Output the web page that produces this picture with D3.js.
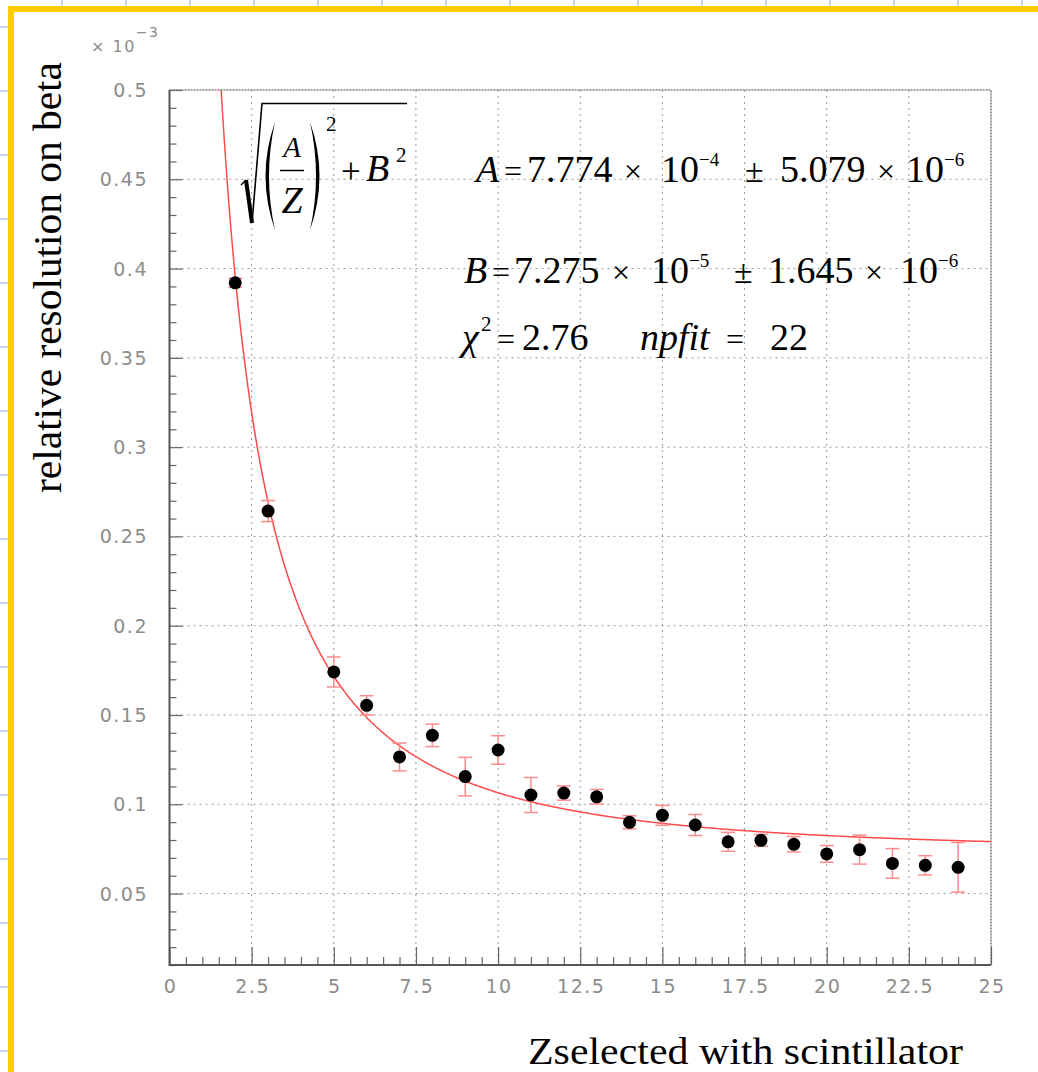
<!DOCTYPE html>
<html>
<head>
<meta charset="utf-8">
<script src="https://cdn.jsdelivr.net/npm/d3@7"></script>
<style>
  body { margin: 0; background: #fff; }
  svg { display: block; }
  .tick-label { font-family: "DejaVu Sans", sans-serif; fill: #8c8c8c; letter-spacing: 1.5px; }
  .serif { font-family: "Liberation Serif", "Times New Roman", serif; fill: #000; }
</style>
</head>
<body>
<svg width="1038" height="1072"></svg>
<script>
// Data (values in units of 10^-3)
const zValues = [2, 3, 5, 6, 7, 8, 9, 10, 11, 12, 13, 14, 15, 16, 17, 18, 19, 20, 21, 22, 23, 24];
const resValues = [0.3920, 0.2642, 0.1741, 0.1554, 0.1265, 0.1386, 0.1155, 0.1304, 0.1052, 0.1063, 0.1042,
                   0.0899, 0.0938, 0.0884, 0.0790, 0.0798, 0.0776, 0.0722, 0.0746, 0.0669, 0.0658, 0.0647];
const resErrors = [0.0025, 0.0059, 0.0084, 0.0054, 0.0078, 0.0063, 0.0108, 0.0080, 0.0098, 0.0040, 0.0041,
                   0.0037, 0.0056, 0.0059, 0.0053, 0.0033, 0.0043, 0.0047, 0.0081, 0.0083, 0.0054, 0.0139];

// Fit parameters (10^-3 units), curve sqrt((A/Z)^2 + B^2)
const fitA = 0.7774;
const fitB = 0.07275;

// Axis ticks
const xTickValues = [0, 2.5, 5, 7.5, 10, 12.5, 15, 17.5, 20, 22.5, 25];
const xTickLabels = ["0", "2.5", "5", "7.5", "10", "12.5", "15", "17.5", "20", "22.5", "25"];
const yTickValues = [0.05, 0.1, 0.15, 0.2, 0.25, 0.3, 0.35, 0.4, 0.45, 0.5];
const yTickLabels = ["0.05", "0.1", "0.15", "0.2", "0.25", "0.3", "0.35", "0.4", "0.45", "0.5"];

const svg = d3.select("svg");

// Spreadsheet background strips and yellow frame
const bg = svg.append("g");
for (let x = 62; x < 1038; x += 64) {
    bg.append("line").attr("x1", x).attr("x2", x).attr("y1", 0).attr("y2", 6)
        .attr("stroke", "#c9d5f5").attr("stroke-width", 2);
}
for (let y = 27; y < 1072; y += 64) {
    bg.append("line").attr("x1", 0).attr("x2", 8).attr("y1", y).attr("y2", y)
        .attr("stroke", "#c9d5f5").attr("stroke-width", 2);
}
bg.append("rect").attr("x", 8).attr("y", 6).attr("width", 1030).attr("height", 6).attr("fill", "#ffcc00");
bg.append("rect").attr("x", 8).attr("y", 6).attr("width", 6).attr("height", 1066).attr("fill", "#ffcc00");

// Scales
const x = d3.scaleLinear().domain([0, 25]).range([169.5, 991]);
const y = d3.scaleLinear().domain([0.01, 0.5]).range([965, 90]);

const plot = svg.append("g");

// Grid (dotted)
plot.selectAll(".vgrid").data(xTickValues.slice(1, -1)).enter().append("line")
    .attr("x1", d => x(d)).attr("x2", d => x(d)).attr("y1", y(0.5)).attr("y2", y(0.01))
    .attr("stroke", "#9a9a9a").attr("stroke-width", 1).attr("stroke-dasharray", "2,4");
plot.selectAll(".hgrid").data(yTickValues.slice(0, -1)).enter().append("line")
    .attr("x1", x(0)).attr("x2", x(25)).attr("y1", d => y(d)).attr("y2", d => y(d))
    .attr("stroke", "#9a9a9a").attr("stroke-width", 1).attr("stroke-dasharray", "2,4");

// Frame top and right
plot.append("path")
    .attr("d", `M${x(0)},${y(0.5)} H${x(25)} V${y(0.01)}`)
    .attr("fill", "none").attr("stroke", "#808080").attr("stroke-width", 1.6)
    .attr("stroke-dasharray", "2,1");

// Y axis with inward ticks
const yAxis = d3.axisRight(y).tickValues(d3.range(0.01, 0.5001, 0.01).map(v => +v.toFixed(2)))
    .tickSize(7).tickFormat("");
const yAxisG = plot.append("g").attr("transform", `translate(${x(0)},0)`).call(yAxis);
yAxisG.select(".domain").remove();
yAxisG.selectAll(".tick line").attr("stroke", "#666").attr("stroke-width", 1.2)
    .attr("x2", d => (Math.round(d * 100) % 5 === 0) ? 13 : 7);

// X axis with inward ticks
const xAxis = d3.axisTop(x).tickValues(d3.range(0, 25.001, 0.5)).tickSize(8).tickFormat("");
const xAxisG = plot.append("g").attr("transform", `translate(0,${y(0.01)})`).call(xAxis);
xAxisG.select(".domain").remove();
xAxisG.selectAll(".tick line").attr("stroke", "#666").attr("stroke-width", 1.2)
    .attr("y2", d => (Math.round(d * 2) % 5 === 0) ? -18 : -8);

// Axis lines
plot.append("path")
    .attr("d", `M${x(0)},${y(0.5)} V${y(0.01)} H${x(25)}`)
    .attr("fill", "none").attr("stroke", "#555").attr("stroke-width", 2);

// Tick labels
plot.selectAll(".ylab").data(yTickValues).enter().append("text")
    .attr("class", "tick-label")
    .attr("x", 148).attr("y", d => y(d) + 7)
    .attr("text-anchor", "end").attr("font-size", 19)
    .text((d, i) => yTickLabels[i]);
plot.selectAll(".xlab").data(xTickValues).enter().append("text")
    .attr("class", "tick-label")
    .attr("x", d => x(d) + 1).attr("y", 993)
    .attr("text-anchor", "middle").attr("font-size", 19)
    .text((d, i) => xTickLabels[i]);

// x 10^-3 multiplier
const mult = plot.append("text").attr("class", "tick-label").attr("x", 91).attr("y", 52).attr("font-size", 16);
mult.append("tspan").text("× 10");
mult.append("tspan").attr("dy", -15).attr("font-size", 14).text("−3");

// Fit curve
svg.append("clipPath").attr("id", "clip").append("rect")
    .attr("x", x(0)).attr("y", y(0.5)).attr("width", x(25) - x(0)).attr("height", y(0.01) - y(0.5));
const fitZ = d3.range(1.5, 25.001, 0.05);
const line = d3.line().x(z => x(z)).y(z => y(Math.sqrt((fitA / z) ** 2 + fitB ** 2)));
plot.append("path").datum(fitZ)
    .attr("clip-path", "url(#clip)")
    .attr("d", line).attr("fill", "none").attr("stroke", "#ff4a4a").attr("stroke-width", 1.5);

// Error bars
const pts = zValues.map((z, i) => ({ z: z, v: resValues[i], e: resErrors[i] }));
const err = plot.append("g").attr("stroke", "#ff8c8c").attr("stroke-width", 1.5);
err.selectAll(".ev").data(pts).enter().append("line")
    .attr("x1", d => x(d.z)).attr("x2", d => x(d.z))
    .attr("y1", d => y(d.v - d.e)).attr("y2", d => y(d.v + d.e));
err.selectAll(".et").data(pts).enter().append("line")
    .attr("x1", d => x(d.z) - 7).attr("x2", d => x(d.z) + 7)
    .attr("y1", d => y(d.v + d.e)).attr("y2", d => y(d.v + d.e));
err.selectAll(".eb").data(pts).enter().append("line")
    .attr("x1", d => x(d.z) - 7).attr("x2", d => x(d.z) + 7)
    .attr("y1", d => y(d.v - d.e)).attr("y2", d => y(d.v - d.e));

// Markers
plot.selectAll(".dot").data(pts).enter().append("circle")
    .attr("cx", d => x(d.z)).attr("cy", d => y(d.v)).attr("r", 6.5).attr("fill", "#000");

// Formula sqrt((A/Z)^2 + B^2)
const f = svg.append("g");
f.append("path").attr("d", "M241,185 L246,180").attr("stroke", "#000").attr("stroke-width", 1.5);
f.append("path").attr("d", "M246,180 L252,223").attr("stroke", "#000").attr("stroke-width", 4);
f.append("path").attr("d", "M252,223 L262,103.5 H407").attr("fill", "none").attr("stroke", "#000").attr("stroke-width", 1.6);
f.append("path").attr("d", "M275,122 Q256,176 275,230 Q263,176 275,122 Z").attr("fill", "#000");
f.append("path").attr("d", "M310,122 Q329,176 310,230 Q322,176 310,122 Z").attr("fill", "#000");
f.append("line").attr("x1", 280).attr("x2", 304).attr("y1", 170.5).attr("y2", 170.5).attr("stroke", "#000").attr("stroke-width", 1.5);
f.append("text").attr("class", "serif").attr("x", 292).attr("y", 157).attr("text-anchor", "middle")
    .attr("font-size", 29).attr("font-style", "italic").text("A");
f.append("text").attr("class", "serif").attr("x", 292).attr("y", 213).attr("text-anchor", "middle")
    .attr("font-size", 38).attr("font-style", "italic").text("Z");
f.append("text").attr("class", "serif").attr("x", 326).attr("y", 131).attr("font-size", 21).text("2");
f.append("text").attr("class", "serif").attr("x", 341).attr("y", 183).attr("font-size", 35).text("+");
f.append("text").attr("class", "serif").attr("x", 366).attr("y", 181).attr("font-size", 38).attr("font-style", "italic").text("B");
f.append("text").attr("class", "serif").attr("x", 396).attr("y", 162).attr("font-size", 21).text("2");

// Fit results text, token by token: [text, x, size, dy, italic]
function textRow(baseline, tokens) {
    tokens.forEach(t => {
        svg.append("text").attr("class", "serif")
            .attr("x", t[1]).attr("y", baseline + (t[3] || 0))
            .attr("font-size", t[2])
            .attr("font-style", t[4] ? "italic" : "normal")
            .text(t[0]);
    });
}
textRow(182, [["A", 476, 38, 0, true], ["=", 504, 32], ["7.774", 527, 38], ["×", 624, 32], ["10", 661, 38],
              ["−4", 699, 19, -16], ["±", 745, 34], ["5.079", 780, 38], ["×", 877, 32], ["10", 906, 38], ["−6", 944, 19, -16]]);
textRow(283, [["B", 464, 38, 0, true], ["=", 492, 32], ["7.275", 514, 38], ["×", 612, 32], ["10", 651, 38],
              ["−5", 689, 19, -16], ["±", 734, 34], ["1.645", 768, 38], ["×", 865, 32], ["10", 900, 38], ["−6", 938, 19, -16]]);
textRow(350, [["χ", 462, 38, 0, true], ["2", 481, 21, -19], ["=", 497, 32], ["2.76", 522, 38],
              ["npfit", 640, 38, 0, true], ["=", 726, 32], ["22", 770, 38]]);

// Axis titles
svg.append("text").attr("class", "serif")
    .attr("transform", "translate(61,493) rotate(-90)")
    .attr("font-size", 40).attr("textLength", 431).attr("lengthAdjust", "spacingAndGlyphs")
    .text("relative resolution on beta");
svg.append("text").attr("class", "serif")
    .attr("x", 528).attr("y", 1064)
    .attr("font-size", 37).attr("textLength", 435).attr("lengthAdjust", "spacingAndGlyphs")
    .text("Zselected with scintillator");
</script>
</body>
</html>
